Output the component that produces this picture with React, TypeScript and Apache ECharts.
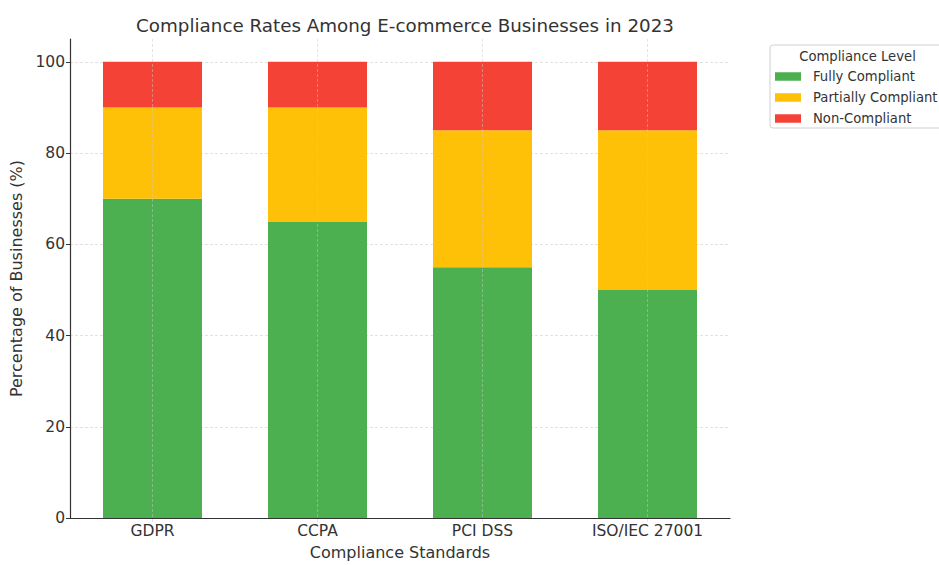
import React, { useEffect, useRef } from "react";
import * as echarts from "echarts";

const categories = ["GDPR", "CCPA", "PCI DSS", "ISO/IEC 27001"];
const fullyCompliant = [70, 65, 55, 50];
const partiallyCompliant = [20, 25, 30, 35];
const nonCompliant = [10, 10, 15, 15];
const seriesNames = ["Fully Compliant", "Partially Compliant", "Non-Compliant"];
const colors = ["#4caf50", "#ffc107", "#f44336"];

const FONT = "DejaVu Sans";

export default function App() {
  const ref = useRef<HTMLDivElement>(null);
  useEffect(() => {
    if (!ref.current) return;
    const chart = echarts.init(ref.current, undefined, { renderer: "svg" });
    const values = [fullyCompliant, partiallyCompliant, nonCompliant];
    chart.setOption({
      animation: false,
      textStyle: { fontFamily: FONT },
      title: {
        text: "Compliance Rates Among E-commerce Businesses in 2023",
        left: 400,
        textAlign: "center",
        top: 11,
        textStyle: { fontFamily: FONT, fontSize: 18.3, fontWeight: "normal", color: "#333" },
      },
      grid: { left: 70, right: 209, top: 39, bottom: 41, containLabel: false },
      legend: {
        orient: "vertical",
        left: 775,
        top: 68.5,
        itemWidth: 26,
        itemHeight: 8.5,
        itemGap: 5,
        padding: 0,
        icon: "rect",
        data: seriesNames,
        textStyle: { fontFamily: FONT, fontSize: 13.2, lineHeight: 16, color: "#333", padding: [0, 0, 0, 7] },
      },
      graphic: [
        {
          type: "rect",
          shape: { x: 770, y: 45, width: 185, height: 83, r: 3 },
          style: { fill: "#fff", stroke: "#d0d0d0", lineWidth: 1 },
          z: -1,
        },
        {
          type: "text",
          x: 857.5,
          y: 56.5,
          style: {
            text: "Compliance Level",
            fontFamily: FONT,
            fontSize: 13.2,
            fill: "#333",
            textAlign: "center",
            textVerticalAlign: "middle",
            verticalAlign: "middle",
          },
        },
      ],
      xAxis: {
        type: "category",
        data: categories,
        name: "Compliance Standards",
        nameLocation: "middle",
        nameGap: 21,
        nameTextStyle: { fontFamily: FONT, fontSize: 16, color: "#333" },
        axisLine: { lineStyle: { color: "#333", width: 1.2 } },
        axisTick: { alignWithLabel: true, length: 4, lineStyle: { color: "#333" } },
        axisLabel: { fontFamily: FONT, fontSize: 15.5, color: "#333", margin: 5 },
        splitLine: { show: false },
      },
      yAxis: {
        type: "value",
        min: 0,
        max: 105,
        interval: 20,
        name: "Percentage of Businesses (%)",
        nameLocation: "middle",
        nameGap: 42,
        nameTextStyle: { fontFamily: FONT, fontSize: 16, color: "#333" },
        axisLine: { show: true, lineStyle: { color: "#333", width: 1.2 } },
        axisTick: { show: true, length: 4, lineStyle: { color: "#333" } },
        axisLabel: { fontFamily: FONT, fontSize: 15.5, color: "#333", margin: 5, showMaxLabel: false },
        splitLine: { show: true, showMaxLine: false, lineStyle: { color: "#dadada", type: [3, 2], width: 0.8 } },
      },
      series: seriesNames.map((name, i) => ({
        name,
        type: "bar",
        stack: "total",
        data: values[i],
        barWidth: "60%",
        itemStyle: { color: colors[i] },
        ...(i === 2
          ? {
              markLine: {
                silent: true,
                symbol: "none",
                label: { show: false },
                lineStyle: { color: "rgba(200,200,200,0.6)", type: [3, 2], width: 0.8 },
                data: categories.map((c) => [
                  { xAxis: c, y: 39 },
                  { xAxis: c, y: 524 },
                ]),
              },
            }
          : {}),
      })),
    });
    return () => chart.dispose();
  }, []);
  return <div ref={ref} style={{ position: "absolute", left: 0, top: 0, width: 939, height: 565 }} />;
}
